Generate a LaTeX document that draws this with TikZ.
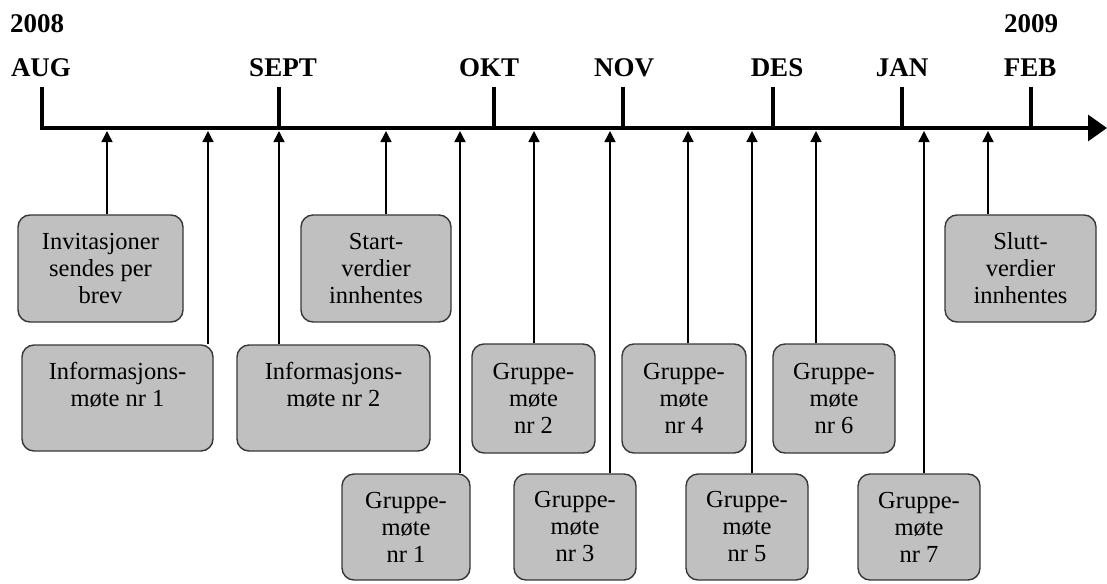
\documentclass[tikz,border=0pt]{standalone}
\usepackage{fontspec}
\setmainfont{Liberation Serif}
\usetikzlibrary{arrows.meta}
\definecolor{boxgray}{RGB}{192,192,192}
\definecolor{edgegray}{RGB}{55,55,55}
\begin{document}
\begin{tikzpicture}[x=1pt,y=-1pt,
  box/.style={draw=edgegray,line width=1.4pt,fill=boxgray,rounded corners=12pt,align=center,
    font=\fontsize{24.5}{27}\selectfont,inner sep=0pt},
  conn/.style={line width=1.4pt,-{Triangle[length=11pt,width=11pt]}},
  month/.style={font=\bfseries\fontsize{27}{28}\selectfont,anchor=base,inner sep=0pt},
  tickline/.style={line width=3.2pt}]
\useasboundingbox (0,0) rectangle (1107,583);

% timeline
\coordinate (tl0) at (42,87);
\coordinate (tlstart) at (42,128);
\coordinate (tlend) at (1107,128);
\draw[tickline,line join=miter,-{Triangle[length=19pt,width=26pt]}] (tl0) -- (tlstart) -- (tlend);
\foreach \x in {279,494,623,773,902,1031}{
  \draw[tickline] (\x,87) -- (\x,128);
}

% month labels
\node[month] (y2008) at (37,33) {2008};
\node[month] (aug) at (41,77) {AUG};
\node[month] (sept) at (283,77) {SEPT};
\node[month] (okt) at (489,77) {OKT};
\node[month] (nov) at (624,77) {NOV};
\node[month] (des) at (777,77) {DES};
\node[month] (jan) at (902,77) {JAN};
\node[month] (feb) at (1030,77) {FEB};
\node[month] (y2009) at (1031,33) {2009};

% boxes
\node[box,minimum width=165,minimum height=107] (b1) at (100.5,268.5) {Invitasjoner\\sendes per\\brev};
\node[box,minimum width=191,minimum height=106] (b2) at (117.5,398) {Informasjons-\\møte nr 1\\\mbox{}};
\node[box,minimum width=193,minimum height=106] (b3) at (333.5,398) {Informasjons-\\møte nr 2\\\mbox{}};
\node[box,minimum width=150,minimum height=107] (b4) at (376,268.5) {Start-\\verdier\\innhentes};
\node[box,minimum width=128,minimum height=106] (b5) at (406,527) {Gruppe-\\møte\\nr 1};
\node[box,minimum width=123,minimum height=109] (b6) at (533.5,398.5) {Gruppe-\\møte\\nr 2};
\node[box,minimum width=122,minimum height=106] (b7) at (575,527) {Gruppe-\\møte\\nr 3};
\node[box,minimum width=124,minimum height=109] (b8) at (684,398.5) {Gruppe-\\møte\\nr 4};
\node[box,minimum width=122,minimum height=106] (b9) at (747,527) {Gruppe-\\møte\\nr 5};
\node[box,minimum width=122,minimum height=109] (b10) at (834,398.5) {Gruppe-\\møte\\nr 6};
\node[box,minimum width=122,minimum height=106] (b11) at (919,527) {Gruppe-\\møte\\nr 7};
\node[box,minimum width=151,minimum height=107] (b12) at (1020.5,268.5) {Slutt-\\verdier\\innhentes};

% arrow targets on the timeline
\coordinate (a1) at (107,131);
\coordinate (a2) at (208,131);
\coordinate (a3) at (279,131);
\coordinate (a4) at (386,131);
\coordinate (a5) at (460,131);
\coordinate (a6) at (534,131);
\coordinate (a7) at (610,131);
\coordinate (a8) at (688,131);
\coordinate (a9) at (752,131);
\coordinate (a10) at (816,131);
\coordinate (a11) at (924,131);
\coordinate (a12) at (988,131);

\foreach \i in {1,...,12}{
  \draw[conn] (a\i |- b\i.north) -- (a\i);
}
\end{tikzpicture}
\end{document}
